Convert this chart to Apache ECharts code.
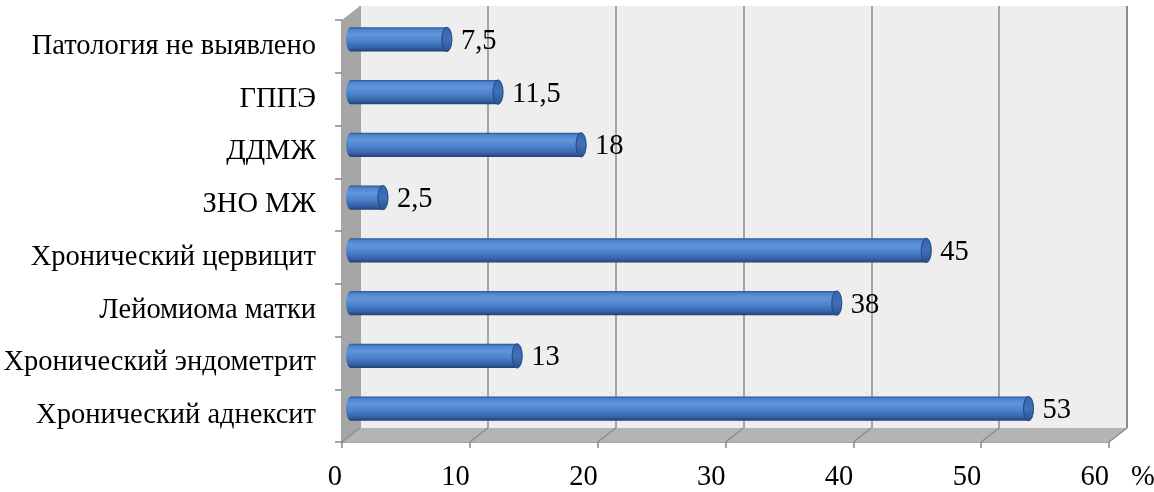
<!DOCTYPE html>
<html>
<head>
<meta charset="utf-8">
<script src="https://cdn.jsdelivr.net/npm/echarts@6/dist/echarts.min.js"></script>
<style>
  html, body { margin: 0; background: #fff; }
  #chart { width: 1154px; height: 492px; }
</style>
</head>
<body>
<div id="chart"></div>
<script>
// данные (снизу вверх, как идёт категориальная ось)
const categories = [
  'Хронический аднексит',
  'Хронический эндометрит',
  'Лейомиома матки',
  'Хронический цервицит',
  'ЗНО МЖ',
  'ДДМЖ',
  'ГППЭ',
  'Патология не выявлено'
];
const values = [53, 13, 38, 45, 2.5, 18, 11.5, 7.5];
const xTicks = [0, 10, 20, 30, 40, 50, 60];

const FONT = '"Liberation Serif", "Times New Roman", serif';
const FS = 28.5;
const W = 1154, H = 492;
// задняя стенка, передняя плоскость и середина (где лежат цилиндры)
const backGrid = { left: 360, right: 27, top: 6, bottom: 64 };
const frontGrid = { left: 342, right: 45, top: 20, bottom: 50 };
const midGrid = { left: 351, right: 36, top: 13, bottom: 57 };

const chart = echarts.init(document.getElementById('chart'));

const fmt = v => String(v).replace('.', ',');

function bodyGradient() {
  return new echarts.graphic.LinearGradient(0, 0, 0, 1, [
    { offset: 0, color: '#2c5594' },
    { offset: 0.1, color: '#4f84cf' },
    { offset: 0.3, color: '#6196dc' },
    { offset: 0.6, color: '#4a7fca' },
    { offset: 0.85, color: '#3462a6' },
    { offset: 1, color: '#213f74' }
  ]);
}

function renderBar(params, api) {
  const v = api.value(0);
  const c = api.value(1);
  const start = api.coord([0, c]);
  const end = api.coord([v, c]);
  const h = api.size([0, 1])[1] * 0.46;
  const ry = h / 2, rx = 5;
  const y = start[1];
  return {
    type: 'group',
    children: [
      { type: 'circle', x: start[0], y: y, scaleX: rx / ry, shape: { cx: 0, cy: 0, r: ry },
        style: { fill: bodyGradient() } },
      { type: 'rect', shape: { x: start[0], y: y - ry, width: end[0] - start[0], height: h },
        style: { fill: bodyGradient() } },
      { type: 'circle', x: end[0], y: y, scaleX: rx / ry, shape: { cx: 0, cy: 0, r: ry },
        style: {
          fill: new echarts.graphic.LinearGradient(0, 0, 0, 1, [
            { offset: 0, color: '#3765ab' },
            { offset: 0.5, color: '#3f70b8' },
            { offset: 1, color: '#29518e' }
          ]),
          stroke: '#264780', lineWidth: 1, strokeNoScale: true
        } },
      { type: 'text', x: end[0] + rx + 9, y: y + 2,
        style: { text: fmt(v), font: FS + 'px ' + FONT, fill: '#000', verticalAlign: 'middle', align: 'left' } }
    ]
  };
}

const gridBase = { outerBoundsMode: 'none', containLabel: false };

const option = {
  animation: false,
  backgroundColor: '#fff',
  grid: [
    Object.assign({ show: true, backgroundColor: '#eeeeee', borderWidth: 0 }, gridBase, backGrid),
    Object.assign({ show: false }, gridBase, frontGrid),
    Object.assign({ show: false }, gridBase, midGrid)
  ],
  xAxis: [
    { type: 'value', gridIndex: 0, min: 0, max: 60, interval: 10,
      axisLine: { show: false }, axisTick: { show: false }, axisLabel: { show: false },
      splitLine: { show: true, lineStyle: { color: '#8c8c8c', width: 1.5 } } },
    { type: 'value', gridIndex: 1, min: 0, max: 60, interval: 10,
      axisLine: { show: true, lineStyle: { color: '#888888', width: 1.5 } },
      axisTick: { show: true, length: 6, lineStyle: { color: '#888888', width: 1.5 } },
      splitLine: { show: false },
      axisLabel: { color: '#000', fontFamily: FONT, fontSize: FS, margin: 21, align: 'right' },
      name: '%', nameLocation: 'end', nameGap: 22,
      nameTextStyle: { color: '#000', fontFamily: FONT, fontSize: FS, verticalAlign: 'top', padding: [21, 0, 0, 0] } },
    { type: 'value', gridIndex: 2, min: 0, max: 60, show: false }
  ],
  yAxis: [
    { type: 'category', gridIndex: 0, data: categories, show: false },
    { type: 'category', gridIndex: 1, data: categories,
      axisLine: { show: true, lineStyle: { color: '#888888', width: 1.5 } },
      axisTick: { show: true, length: 7, lineStyle: { color: '#888888', width: 1.5 } },
      axisLabel: { color: '#000', fontFamily: FONT, fontSize: FS, margin: 26 } },
    { type: 'category', gridIndex: 2, data: categories, show: false }
  ],
  series: [
    { type: 'custom', xAxisIndex: 2, yAxisIndex: 2, z: 5,
      data: values.map((v, i) => [v, i]),
      encode: { x: 0, y: 1 },
      renderItem: renderBar }
  ]
};

chart.setOption(option);

// стенка слева, пол и линии сетки на полу
const backBottom = H - backGrid.bottom;
const frontBottom = H - frontGrid.bottom;
const bx = v => chart.convertToPixel({ xAxisIndex: 0 }, v);
const fx = v => chart.convertToPixel({ xAxisIndex: 1 }, v);

const decor = [
  { type: 'polygon', z: 1,
    shape: { points: [[fx(0), frontGrid.top], [bx(0), backGrid.top], [bx(0), backBottom], [fx(0), frontBottom]] },
    style: { fill: '#a6a6a6' } },
  { type: 'polygon', z: 1,
    shape: { points: [[fx(0), frontBottom], [bx(0), backBottom], [bx(60), backBottom], [fx(60), frontBottom]] },
    style: { fill: '#b4b4b4' } },
  { type: 'line', z: 2,
    shape: { x1: bx(60), y1: backGrid.top, x2: bx(60), y2: backBottom },
    style: { stroke: '#8c8c8c', lineWidth: 2 } }
];
xTicks.forEach(t => {
  decor.push({ type: 'line', z: 2,
    shape: { x1: bx(t), y1: backBottom, x2: fx(t), y2: frontBottom },
    style: { stroke: '#8c8c8c', lineWidth: 1.5 } });
});
chart.setOption({ graphic: decor });
</script>
</body>
</html>
